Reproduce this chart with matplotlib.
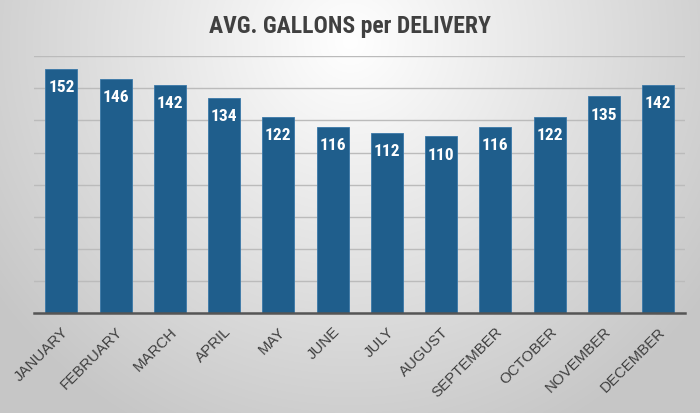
import numpy as np
import matplotlib
matplotlib.use("Agg")
import matplotlib.pyplot as plt
from matplotlib import font_manager

months = ["JANUARY", "FEBRUARY", "MARCH", "APRIL", "MAY", "JUNE", "JULY",
          "AUGUST", "SEPTEMBER", "OCTOBER", "NOVEMBER", "DECEMBER"]
gallons = [152, 146, 142, 134, 122, 116, 112, 110, 116, 122, 135, 142]
title = "AVG. GALLONS per DELIVERY"

names = {f.name for f in font_manager.fontManager.ttflist}


def pick(cands, default="DejaVu Sans"):
    for c in cands:
        if c in names:
            return c
    return default


narrow = pick(["Roboto Condensed", "Liberation Sans Narrow", "Archivo Narrow",
               "PT Sans Narrow", "Asap Condensed", "Barlow Condensed"])
regular = pick(["Liberation Sans", "Arimo", "DejaVu Sans"])

fig = plt.figure(figsize=(7.0, 4.13), dpi=100)

# radial gradient background
bg = fig.add_axes([0, 0, 1, 1], zorder=-10)
h, w = 413, 700
yy, xx = np.mgrid[0:h, 0:w]
cx, cy = w / 2, h * 0.1
r = np.sqrt(((xx - cx) / (w * 0.62)) ** 2 + ((yy - cy) / (h * 1.05)) ** 2)
r = np.clip(r, 0, 1)
val = 1.0 - 0.22 * r
img = np.dstack([val, val, val])
bg.imshow(img, aspect="auto", extent=[0, 1, 0, 1], origin="upper")
bg.axis("off")

ax = fig.add_axes([0.049, 0.242, 0.930, 0.622])
ax.patch.set_alpha(0)
x = np.arange(len(months))
ax.bar(x, gallons, width=0.59, color="#1F5E8C", edgecolor="#3A78A8",
       linewidth=0.6, zorder=3)
ax.set_xlim(-0.5, len(months) - 0.5)
ax.set_ylim(0, 160)
ax.set_yticks(np.arange(0, 161, 20))
ax.yaxis.grid(True, color="#BBBBBB", linewidth=1.0, zorder=0)
ax.tick_params(axis="y", left=False, labelleft=False)
ax.tick_params(axis="x", bottom=False, pad=5)
for s in ["top", "right", "left"]:
    ax.spines[s].set_visible(False)
ax.spines["bottom"].set_color("#555555")
ax.spines["bottom"].set_linewidth(1.8)
ax.spines["bottom"].set_zorder(4)

ax.set_xticks(x)
ax.set_xticklabels(months, rotation=45, ha="right", rotation_mode="anchor",
                   fontsize=10.8, color="#404040", family=regular)

for xi, v in zip(x, gallons):
    ax.annotate(str(v), (xi, v), xytext=(0, -13.5), textcoords="offset points",
                ha="center", va="center", color="white", fontsize=12.5,
                fontweight="bold", family=narrow, zorder=5)

fig.text(0.5, 0.937, title, ha="center", va="center", fontsize=17,
         fontweight="bold", color="#404040", family=narrow)

fig.savefig("out.png", dpi=100)
